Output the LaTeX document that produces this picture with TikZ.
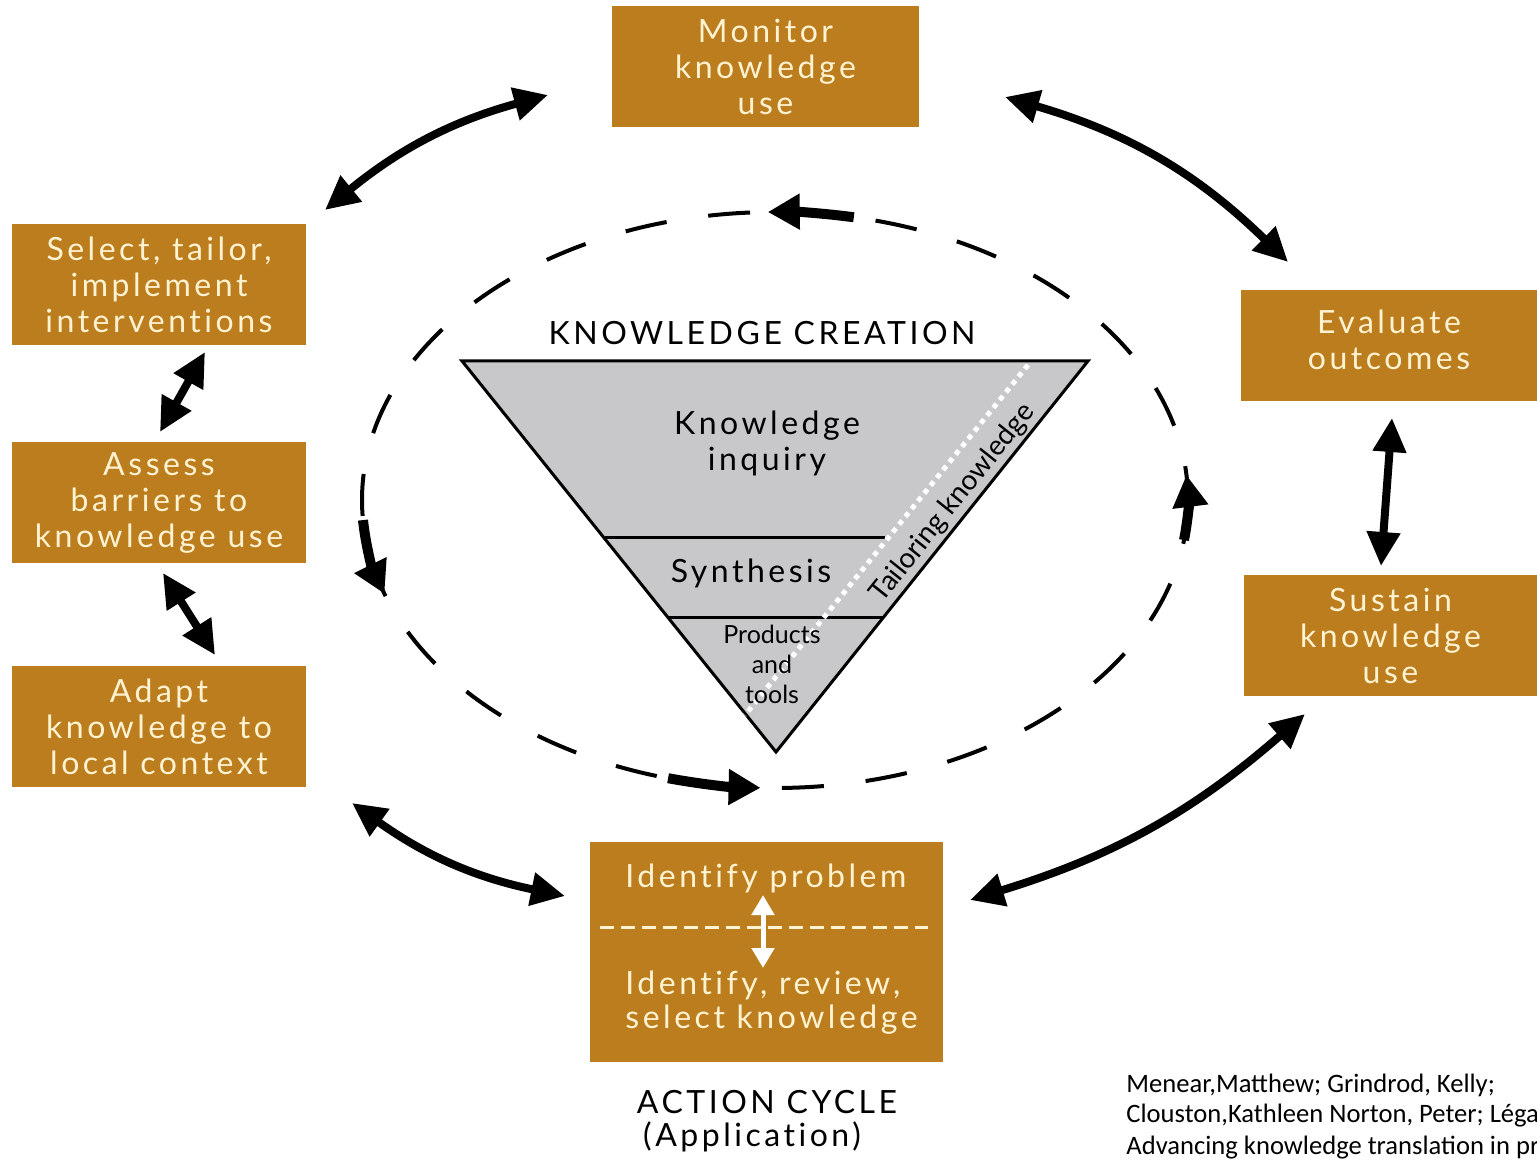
\documentclass[tikz,border=0pt]{standalone}
\usepackage{fontspec}
\setmainfont{Lato}
\newfontfamily\boxfont[LetterSpace=11,Ligatures={NoCommon}]{Lato}
\newfontfamily\plainfont[Ligatures={NoCommon}]{Lato}
\newfontfamily\citefont{Carlito}
\usetikzlibrary{arrows.meta,calc}
\definecolor{ochre}{HTML}{BB7D1E}
\definecolor{cream}{HTML}{FFF3D2}
\definecolor{trigray}{HTML}{C8C8CA}
\begin{document}
\begin{tikzpicture}[x=0.5pt,y=0.5pt,
  box/.style={fill=ochre,text=cream,inner sep=0pt,align=center,
    font=\boxfont\fontsize{16}{18}\selectfont},
  boxtext/.style={text=cream,inner sep=0pt,anchor=west,font=\boxfont\fontsize{16}{18}\selectfont},
  darktext/.style={text=black,inner sep=0pt,align=center,font=\boxfont\fontsize{16}{18}\selectfont},
  bigarrow/.style={line width=4pt,{Triangle[length=17pt,width=16pt]}-{Triangle[length=17pt,width=16pt]}},
  ringarrow/.style={line width=5pt,-{Triangle[length=16pt,width=17pt]}},
  ring/.style={line width=2pt,dash pattern=on 21pt off 21pt,dash phase=4pt},
  citetext/.style={inner sep=0pt,anchor=west,font=\citefont\fontsize{13.3}{15.5}\selectfont}
]
\useasboundingbox[fill=white] (0,0) rectangle (1537,-1160);

% boxes
\node[box,minimum width=153.5pt,minimum height=60.5pt] (mon) at (765.5,-66.5) {Monitor\\knowledge\\use};
\node[box,minimum width=147pt,minimum height=60.5pt] (sel) at (159,-284.5) {Select, tailor,\\implement\\interventions};
\node[box,minimum width=147pt,minimum height=60.5pt] (ass) at (159,-502.5) {Assess\\barriers to\\knowledge use};
\node[box,minimum width=147pt,minimum height=60.5pt] (ada) at (159,-726.5) {Adapt\\knowledge to\\local context};
\node[box,minimum width=148pt,minimum height=55.5pt] (eva) at (1389,-345.5) {};
\node[box] (evat) at (1389,-340) {Evaluate\\outcomes};
\node[box,minimum width=146.5pt,minimum height=60.5pt] (sus) at (1390.5,-635.5) {Sustain\\knowledge\\use};
\node[box,minimum width=176.5pt,minimum height=110pt] (idb) at (766.5,-952) {};
\node[boxtext] (idp) at (625,-878) {Identify problem};
\node[boxtext] (idr) at (625,-985) {Identify, review,};
\node[boxtext] (ids) at (625,-1020) {select knowledge};
\coordinate (dl) at (600,-927);
\coordinate (dr) at (928,-927);
\draw[cream,line width=1.5pt,dash pattern=on 7pt off 3.5pt] (dl) -- (dr);
\coordinate (wa1) at (763,-895);
\coordinate (wa2) at (763,-968);
\draw[white,line width=2.5pt,{Triangle[length=10pt,width=11pt]}-{Triangle[length=10pt,width=11pt]}] (wa1) -- (wa2);

% labels
\node[darktext] (kc) at (762,-333) {KNOWLEDGE CREATION};
\node[darktext] (ac) at (767,-1102) {ACTION CYCLE};
\node[darktext] (app) at (752,-1137) {(Application)};

% triangle
\coordinate (tl) at (462,-361);
\coordinate (tr) at (1088,-361);
\coordinate (ap) at (776,-752);
\draw[line width=1.5pt,fill=trigray,line join=miter] (tl) -- (tr) -- (ap) -- cycle;
\coordinate (s1l) at (605,-537);
\coordinate (s1r) at (885,-537);
\coordinate (s2l) at (668,-617);
\coordinate (s2r) at (884,-617);
\draw[line width=1.5pt] (s1l) -- (s1r);
\draw[line width=1.5pt] (s2l) -- (s2r);
\coordinate (t1) at (1028,-365);
\coordinate (t2) at (745,-715);
\draw[white,line width=2.5pt,dash pattern=on 2.5pt off 2.5pt] (t1) -- (t2);
\node[darktext] (ki) at (767,-443) {Knowledge\\inquiry};
\node[darktext] (syn) at (751,-573) {Synthesis};
\node[inner sep=0pt,align=center,font=\plainfont\fontsize{12.5}{15}\selectfont] (pt) at (772,-664) {Products\\and\\tools};
\node[inner sep=0pt,rotate=51.4,font=\plainfont\fontsize{14}{15}\selectfont] (tk) at (953,-503) {Tailoring knowledge};

% dashed ring
\coordinate (ec) at (775,-500);
\draw[ring] (ec) ellipse [x radius=413,y radius=288];
\draw[ringarrow] (ec) ++(79:413 and 288) arc[start angle=79,end angle=91,x radius=413,y radius=288];
\draw[ringarrow] (ec) ++(184:413 and 288) arc[start angle=184,end angle=199,x radius=413,y radius=288];
\draw[ringarrow] (ec) ++(255:413 and 288) arc[start angle=255,end angle=268,x radius=413,y radius=288];
\draw[ringarrow] (ec) ++(-8:413 and 288) arc[start angle=-8,end angle=5,x radius=413,y radius=288];

% cycle arrows
\coordinate (a1s) at (325,-210);
\coordinate (a1e) at (548,-95);
\draw[bigarrow] (a1s) to[bend left=12] (a1e);
\coordinate (a2s) at (1005,-97);
\coordinate (a2e) at (1288,-262);
\draw[bigarrow] (a2s) to[bend left=14] (a2e);
\coordinate (a3s) at (160,-432);
\coordinate (a3e) at (205,-352);
\draw[bigarrow] (a3s) -- (a3e);
\coordinate (a4s) at (163,-573);
\coordinate (a4e) at (215,-655);
\draw[bigarrow] (a4s) -- (a4e);
\coordinate (a5s) at (352,-803);
\coordinate (a5e) at (565,-896);
\draw[bigarrow] (a5s) to[bend right=12] (a5e);
\coordinate (a6s) at (970,-900);
\coordinate (a6e) at (1305,-714);
\draw[bigarrow] (a6s) to[bend right=12] (a6e);
\coordinate (a7s) at (1392,-418);
\coordinate (a7e) at (1381,-566);
\draw[bigarrow] (a7s) -- (a7e);

% citation
\node[citetext] (c1) at (1126,-1085) {Menear,Matthew; Grindrod, Kelly;};
\node[citetext] (c2) at (1126,-1116) {Clouston,Kathleen Norton, Peter; Léga};
\node[citetext] (c3) at (1126,-1148) {Advancing knowledge translation in pr};
\end{tikzpicture}
\end{document}
